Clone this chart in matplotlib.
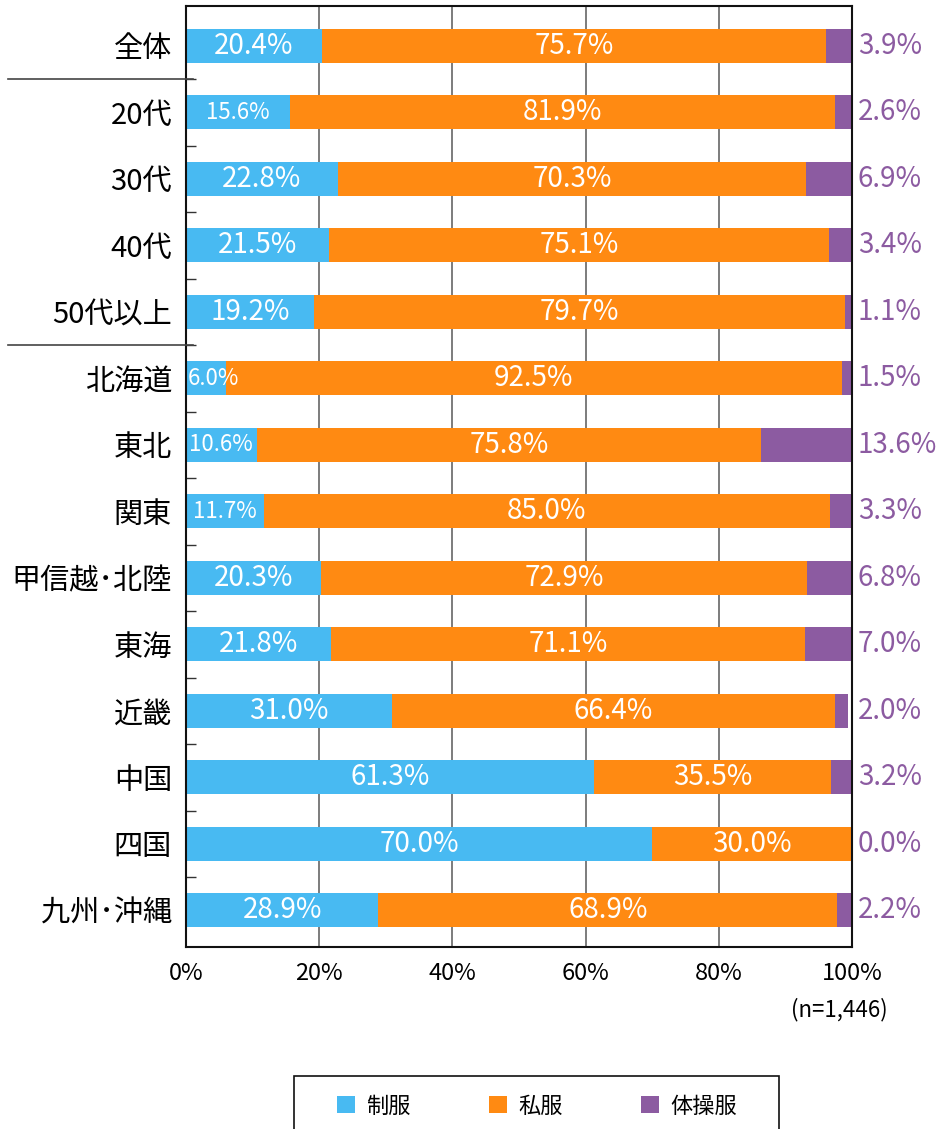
import matplotlib
matplotlib.use("Agg")
import matplotlib.pyplot as plt
import matplotlib.transforms as mtransforms
from matplotlib.patches import Patch, Rectangle
import numpy as np

plt.rcParams['font.family'] = ['Noto Sans CJK JP', 'DejaVu Sans']

# data (percent)
categories = ['全体', '20代', '30代', '40代', '50代以上', '北海道', '東北', '関東',
              '甲信越･北陸', '東海', '近畿', '中国', '四国', '九州･沖縄']
uniform = [20.4, 15.6, 22.8, 21.5, 19.2, 6.0, 10.6, 11.7, 20.3, 21.8, 31.0, 61.3, 70.0, 28.9]
casual = [75.7, 81.9, 70.3, 75.1, 79.7, 92.5, 75.8, 85.0, 72.9, 71.1, 66.4, 35.5, 30.0, 68.9]
gym = [3.9, 2.6, 6.9, 3.4, 1.1, 1.5, 13.6, 3.3, 6.8, 7.0, 2.0, 3.2, 0.0, 2.2]
series_names = ['制服', '私服', '体操服']
xticks = [0, 20, 40, 60, 80, 100]

c_blue = '#48BAF2'
c_orange = '#FF8A12'
c_purple = '#8C5BA1'

fig = plt.figure(figsize=(9.38, 11.29), dpi=100)
W, H = 938, 1129
ax = fig.add_axes([186 / W, 1 - 947 / H, 666 / W, 941 / H])

y = np.arange(len(categories))
u = np.array(uniform)
c = np.array(casual)
g = np.array(gym)
bh = 0.51

ax.barh(y, u, height=bh, color=c_blue, zorder=2)
ax.barh(y, c, left=u, height=bh, color=c_orange, zorder=2)
ax.barh(y, g, left=u + c, height=bh, color=c_purple, zorder=2)

for i in range(len(categories)):
    # narrow bars get a smaller label, like the squeezed text in the original
    fs = 16 if u[i] < 17 else 20
    if u[i] < 8:
        ax.text(0.3, y[i], f'{u[i]:.1f}%', color='white', fontsize=fs,
                ha='left', va='center', zorder=3)
    else:
        ax.text(u[i] / 2, y[i], f'{u[i]:.1f}%', color='white', fontsize=fs,
                ha='center', va='center', zorder=3)
    ax.text(u[i] + c[i] / 2, y[i], f'{c[i]:.1f}%', color='white', fontsize=20,
            ha='center', va='center', zorder=3)
    ax.text(100.9, y[i], f'{g[i]:.1f}%', color=c_purple, fontsize=20,
            ha='left', va='center', clip_on=False)

ax.set_xlim(0, 100)
ax.set_ylim(13.55, -0.6)
ax.set_xticks(xticks)
ax.set_xticklabels([f'{t}%' for t in xticks], fontsize=17)
ax.tick_params(axis='x', length=0, pad=11)
ax.set_yticks(y)
ax.set_yticklabels(categories, fontsize=21)
ax.tick_params(axis='y', which='major', length=0, pad=10)
ax.set_yticks(np.arange(len(categories) - 1) + 0.5, minor=True)
ax.tick_params(axis='y', which='minor', direction='in', length=7, width=1, color='#333333')

for xv in xticks[1:-1]:
    ax.axvline(xv, color='#666666', lw=1.2, zorder=1)
for sp in ax.spines.values():
    sp.set_linewidth(1.5)
    sp.set_color('#111111')

# separator lines between groups
trans = mtransforms.blended_transform_factory(ax.transAxes, ax.transData)
for sep in [0.5, 4.5]:
    ax.plot([-0.267, 0.011], [sep, sep], transform=trans, color='#444444',
            lw=1.2, clip_on=False, zorder=4)

ax.text(888 / W, 1 - 1010 / H, '(n=1,446)', transform=fig.transFigure, fontsize=16,
        ha='right', va='center')

# legend: frame drawn separately, runs off the bottom edge like the original
frame = Rectangle((294 / W, 1 - 1140 / H), 485 / W, 64 / H, transform=fig.transFigure,
                  facecolor='white', edgecolor='#111111', lw=1.2)
fig.patches.append(frame)
handles = [Patch(facecolor=col, edgecolor='none') for col in [c_blue, c_orange, c_purple]]
leg = fig.legend(handles, series_names, loc='center',
                 bbox_to_anchor=(537 / W, 1 - 1106 / H),
                 ncol=3, fontsize=16, frameon=False,
                 handlelength=0.8, handleheight=0.8,
                 handletextpad=0.5, columnspacing=3.55, borderaxespad=0)

fig.savefig('out.png', dpi=100)
